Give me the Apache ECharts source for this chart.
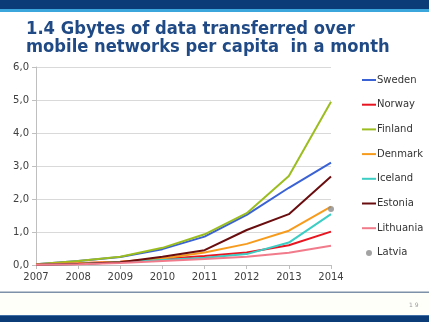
<!DOCTYPE html>
<html>
<head>
<meta charset="utf-8">
<script src="https://cdn.jsdelivr.net/npm/echarts@6/dist/echarts.min.js"></script>
<style>
  html, body { margin: 0; padding: 0; background: #ffffff; }
  #chart { width: 429px; height: 322px; }
</style>
</head>
<body>
<div id="chart"></div>
<script>
// Mobile data per capita per month (GB), 2007–2014
const years = ['2007', '2008', '2009', '2010', '2011', '2012', '2013', '2014'];
const yTicks = [0, 1, 2, 3, 4, 5, 6];

const sweden    = [0.02, 0.12, 0.24, 0.48, 0.86, 1.52, 2.34, 3.10];
const norway    = [0.02, 0.05, 0.10, 0.18, 0.27, 0.38, 0.60, 1.01];
const finland   = [0.02, 0.12, 0.25, 0.52, 0.93, 1.57, 2.70, 4.95];
const denmark   = [0.02, 0.05, 0.10, 0.20, 0.38, 0.64, 1.04, 1.77];
const iceland   = [0.01, 0.03, 0.08, 0.15, 0.22, 0.33, 0.68, 1.54];
const estonia   = [0.01, 0.03, 0.08, 0.25, 0.45, 1.06, 1.54, 2.68];
const lithuania = [0.01, 0.02, 0.06, 0.12, 0.18, 0.25, 0.37, 0.58];
const latvia    = [null, null, null, null, null, null, null, 1.70];

const titleLines = ['1.4 Gbytes of data transferred over', 'mobile networks per capita  in a month'];

const lineSeries = [
  { name: 'Sweden',    data: sweden,    color: '#3a62d4' },
  { name: 'Norway',    data: norway,    color: '#e81520' },
  { name: 'Finland',   data: finland,   color: '#9cbd20' },
  { name: 'Denmark',   data: denmark,   color: '#f79b1c' },
  { name: 'Iceland',   data: iceland,   color: '#3ccdc4' },
  { name: 'Estonia',   data: estonia,   color: '#6a0d0f' },
  { name: 'Lithuania', data: lithuania, color: '#f27b8b' }
];

const chart = echarts.init(document.getElementById('chart'), null, { renderer: 'canvas' });

const series = lineSeries.map(s => ({
  name: s.name,
  type: 'line',
  data: s.data,
  symbol: 'none',
  color: s.color,
  lineStyle: { width: 2, color: s.color },
  z: 3
}));
series.push({
  name: 'Latvia',
  type: 'scatter',
  data: latvia,
  symbol: 'circle',
  symbolSize: 6,
  itemStyle: { color: '#8c8c8c' },
  z: 4
});

// legend entries: plain strokes for the lines, a dot for Latvia
const legendData = lineSeries.map(s => ({ name: s.name, itemStyle: { opacity: 0 } }));
legendData.push({ name: 'Latvia' });

const titleFont = 'bold 18px "DejaVu Sans"';

const option = {
  animation: false,
  backgroundColor: '#ffffff',
  textStyle: { fontFamily: 'DejaVu Sans' },
  graphic: [
    // top band
    { type: 'rect', shape: { x: 0, y: 0, width: 429, height: 9 }, style: { fill: '#0b3c78' }, silent: true },
    { type: 'rect', shape: { x: 0, y: 9, width: 429, height: 3 }, style: { fill: '#3aa6dc' }, silent: true },
    // footer
    { type: 'rect', shape: { x: 0, y: 293, width: 429, height: 22 }, style: { fill: '#fffffa' }, silent: true },
    { type: 'rect', shape: { x: 0, y: 291.5, width: 429, height: 1.5 }, style: { fill: '#7d91a8' }, silent: true },
    { type: 'rect', shape: { x: 0, y: 315, width: 429, height: 1 }, style: { fill: '#3f6fa5' }, silent: true },
    { type: 'rect', shape: { x: 0, y: 316, width: 429, height: 6 }, style: { fill: '#0b3c78' }, silent: true },
    { type: 'text', left: 409, top: 302, style: { text: '1 9', fill: '#9a9a9a', font: '6px "DejaVu Sans"' }, silent: true },
    // title
    { type: 'text', x: 26, y: 20, scaleX: 0.91, style: { text: titleLines[0], fill: '#1f4a85', font: titleFont }, silent: true },
    { type: 'text', x: 26, y: 38, scaleX: 0.91, style: { text: titleLines[1], fill: '#1f4a85', font: titleFont }, silent: true }
  ],
  grid: { left: 36, right: 98, top: 67, bottom: 57, containLabel: false },
  legend: {
    orient: 'vertical',
    left: 356,
    top: 70,
    itemWidth: 14,
    itemHeight: 6,
    itemGap: 14.7,
    textStyle: { fontSize: 10, color: '#333333', fontFamily: 'DejaVu Sans', padding: [0, 0, 0, -4] },
    data: legendData
  },
  xAxis: {
    type: 'category',
    data: years,
    boundaryGap: false,
    axisLine: { lineStyle: { color: '#bfbfbf', width: 1 } },
    axisTick: { show: true, length: 4, lineStyle: { color: '#bfbfbf' } },
    axisLabel: { color: '#404040', fontSize: 10, margin: 7, fontFamily: 'DejaVu Sans' },
    splitLine: { show: false }
  },
  yAxis: {
    type: 'value',
    min: 0,
    max: 6,
    interval: 1,
    axisLine: { show: true, lineStyle: { color: '#bfbfbf', width: 1 } },
    axisTick: { show: true, length: 4, lineStyle: { color: '#bfbfbf' } },
    axisLabel: {
      color: '#404040',
      fontSize: 10,
      margin: 7,
      fontFamily: 'DejaVu Sans',
      formatter: v => yTicks.includes(v) ? v.toFixed(1).replace('.', ',') : ''
    },
    splitLine: { show: true, lineStyle: { color: '#d9d9d9', width: 1 } }
  },
  series: series
};

chart.setOption(option);
</script>
</body>
</html>
